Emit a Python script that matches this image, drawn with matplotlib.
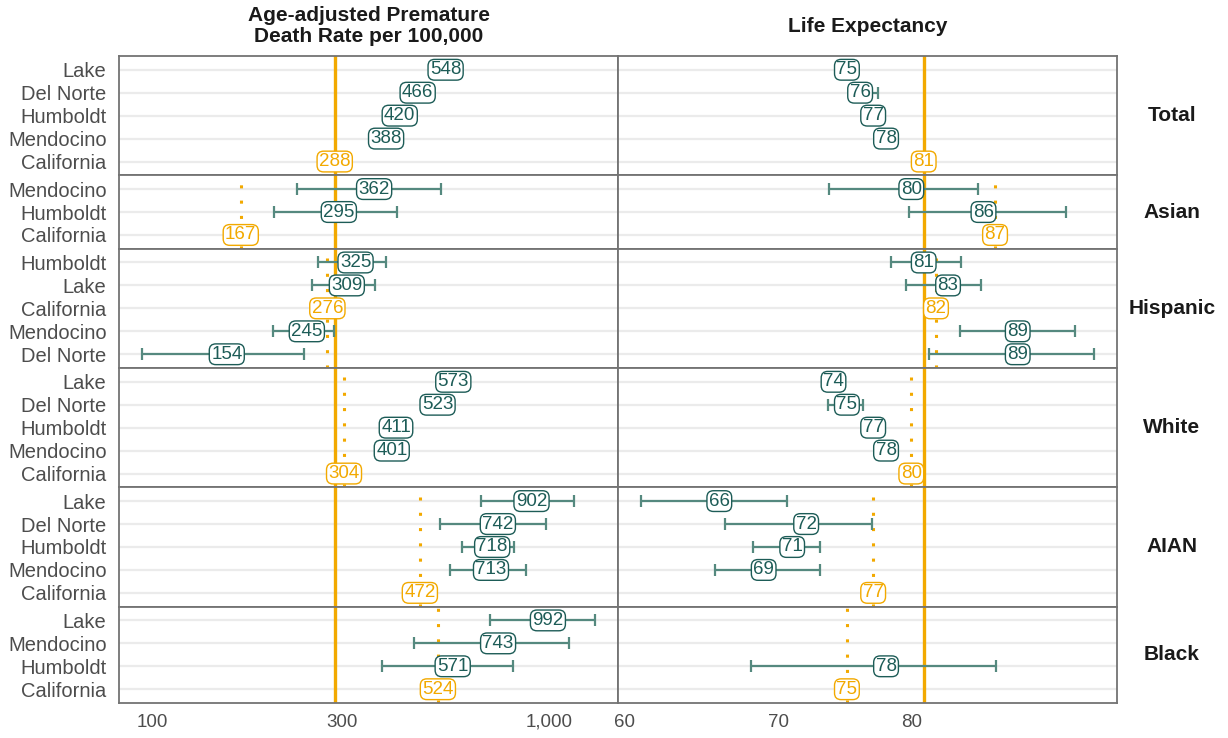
import numpy as np
import matplotlib
matplotlib.use("Agg")
import matplotlib.pyplot as plt
from matplotlib.gridspec import GridSpec
from matplotlib.ticker import FixedLocator, NullLocator

plt.rcParams['font.family'] = ['Liberation Sans', 'DejaVu Sans']

# Data: one entry per row (group / county)
groups = ["Total", "Asian", "Hispanic", "White", "AIAN", "Black"]
row_group = (["Total"] * 5 + ["Asian"] * 3 + ["Hispanic"] * 5
             + ["White"] * 5 + ["AIAN"] * 5 + ["Black"] * 4)
row_county = ["Lake", "Del Norte", "Humboldt", "Mendocino", "California",
              "Mendocino", "Humboldt", "California",
              "Humboldt", "Lake", "California", "Mendocino", "Del Norte",
              "Lake", "Del Norte", "Humboldt", "Mendocino", "California",
              "Lake", "Del Norte", "Humboldt", "Mendocino", "California",
              "Lake", "Mendocino", "Humboldt", "California"]

nan = np.nan
# Age-adjusted premature death rate per 100,000
rate = [548, 466, 420, 388, 288,
        362, 295, 167,
        325, 309, 276, 245, 154,
        573, 523, 411, 401, 304,
        902, 742, 718, 713, 472,
        992, 743, 571, 524]
rate_lo = [nan, nan, nan, nan, nan,
           231, 203, nan,
           261, 252, nan, 201, 94,
           nan, nan, nan, nan, nan,
           671, 532, 601, 561, nan,
           711, 455, 380, nan]
rate_hi = [nan, nan, nan, nan, nan,
           535, 413, nan,
           387, 363, nan, 287, 241,
           nan, nan, nan, nan, nan,
           1156, 983, 817, 875, nan,
           1306, 1122, 812, nan]
# Life expectancy
life = [75, 76, 77, 78, 81,
        80, 86, 87,
        81, 83, 82, 89, 89,
        74, 75, 77, 78, 80,
        66, 72, 71, 69, 77,
        nan, nan, 78, 75]
life_lo = [nan, 75.3, nan, nan, nan,
           73.7, 79.8, nan,
           78.4, 79.6, nan, 84.0, 81.4,
           nan, 73.6, nan, nan, nan,
           61.0, 66.4, 68.3, 65.7, nan,
           nan, nan, 68.1, nan]
life_hi = [nan, 77.4, nan, nan, nan,
           85.5, 93.4, nan,
           84.1, 85.8, nan, 94.3, 96.1,
           nan, 76.2, nan, nan, nan,
           70.6, 76.9, 73.0, 73.0, nan,
           nan, nan, 87.1, nan]

metric_titles = ["Age-adjusted Premature\nDeath Rate per 100,000",
                 "Life Expectancy"]
rate_ticks = [100, 300, 1000]
rate_ticklabels = ["100", "300", "1,000"]
life_ticks = [60, 70, 80]
life_ticklabels = ["60", "70", "80"]

TEAL = "#1d5c57"
TEAL_BAR = "#55897f"
ORANGE = "#f2a900"
GRID = "#ebebeb"
BORDER = "#737373"
TICK = "#4d4d4d"

row_group = np.array(row_group)
row_county = np.array(row_county)
metrics = [
    (np.array(rate, float), np.array(rate_lo, float), np.array(rate_hi, float),
     rate_ticks, rate_ticklabels),
    (np.array(life, float), np.array(life_lo, float), np.array(life_hi, float),
     life_ticks, life_ticklabels),
]

fig = plt.figure(figsize=(12.28, 7.38), dpi=100)
counts = [int(np.sum(row_group == g)) for g in groups]
gs = GridSpec(len(groups), 2, fig, height_ratios=[c + 0.2 for c in counts],
              hspace=0, wspace=0, left=119 / 1228, right=1117 / 1228,
              top=1 - 56 / 738, bottom=1 - 703 / 738)

for col, (val, lo, hi, ticks, ticklabels) in enumerate(metrics):
    # x limits with a 5% expansion on the log scale
    allv = np.concatenate([val, lo, hi])
    allv = np.log10(allv[~np.isnan(allv)])
    span = allv.max() - allv.min()
    xlim = (10 ** (allv.min() - 0.05 * span), 10 ** (allv.max() + 0.05 * span))
    ca_total = val[(row_group == "Total") & (row_county == "California")][0]

    for gi, g in enumerate(groups):
        ax = fig.add_subplot(gs[gi, col])
        idx = np.where(row_group == g)[0]
        n = len(idx)
        ys = np.arange(n)
        ax.set_xscale("log")
        ax.set_xlim(*xlim)
        ax.set_ylim(n - 1 + 0.6, -0.6)

        for y in ys:
            ax.axhline(y, color=GRID, lw=1.6, zorder=0)

        ax.axvline(ca_total, color=ORANGE, lw=2.4, zorder=1)
        ca = val[idx][row_county[idx] == "California"][0]
        if g != "Total":
            ax.axvline(ca, color=ORANGE, lw=2.2, ls=(0, (1, 4)), zorder=1)

        for y, i in zip(ys, idx):
            if np.isnan(val[i]):
                continue
            is_ca = row_county[i] == "California"
            if not np.isnan(lo[i]):
                ax.errorbar(val[i], y, xerr=[[val[i] - lo[i]], [hi[i] - val[i]]],
                            fmt="none", ecolor=TEAL_BAR, elinewidth=1.6,
                            capsize=4.3, capthick=1.6, zorder=2)
            c = ORANGE if is_ca else TEAL
            ax.text(val[i], y, f"{val[i]:.0f}", ha="center", va="center",
                    fontsize=13.5, color=c, zorder=4,
                    bbox=dict(boxstyle="round,pad=0.1,rounding_size=0.35",
                              fc="white", ec=c, lw=1.0))

        ax.xaxis.set_major_locator(FixedLocator(ticks))
        ax.xaxis.set_minor_locator(NullLocator())
        ax.set_xticklabels(ticklabels)
        ax.tick_params(axis="both", length=0, labelsize=13.5, colors=TICK)
        ax.tick_params(axis="x", pad=17)
        for t in ax.get_xticklabels():
            t.set_verticalalignment("baseline")
        ax.tick_params(axis="y", pad=9, labelsize=14.5)
        if gi != len(groups) - 1:
            ax.tick_params(axis="x", labelbottom=False)
        ax.set_yticks(ys)
        if col == 0:
            ax.set_yticklabels(row_county[idx])
        else:
            ax.set_yticklabels([])
        for s in ax.spines.values():
            s.set_color(BORDER)
            s.set_linewidth(1.3)

        if col == 1:
            pos = ax.get_position()
            fig.text(1172 / 1228, (pos.y0 + pos.y1) / 2, g, ha="center",
                     va="center", fontsize=15, fontweight="bold",
                     color="#1a1a1a")
        if gi == 0:
            pos = ax.get_position()
            fig.text((pos.x0 + pos.x1) / 2, 1 - 26 / 738, metric_titles[col],
                     ha="center", va="center", fontsize=15, fontweight="bold",
                     color="#1a1a1a", linespacing=1.15)

fig.savefig("out.png", dpi=100)
